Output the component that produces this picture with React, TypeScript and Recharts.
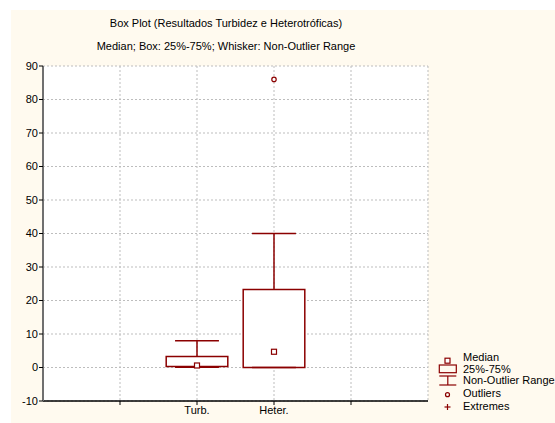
import React from 'react';
import {
  ComposedChart, XAxis, YAxis, CartesianGrid, ReferenceArea, ReferenceLine, Scatter
} from 'recharts';

// box plot summary
const categories = ['Turb.', 'Heter.'];
const minValues = [0.1, 0];
const q1Values = [0.3, 0];
const medianValues = [0.6, 4.7];
const q3Values = [3.3, 23.3];
const maxValues = [8, 40];
const outlierValues = [[], [86]];

const yTicks = [-10, 0, 10, 20, 30, 40, 50, 60, 70, 80, 90];
const xTicks = [1, 2, 3, 4];
const firstPos = 2;

const RED = '#8b0000';
const FONT = '"Liberation Sans", Arial, sans-serif';
const BOX_HALF = 0.4;
const CAP_HALF = 0.285;

const positions = categories.map((_, i) => firstPos + i);
const medianData = categories.map((_, i) => ({ x: positions[i], y: medianValues[i] }));
const outlierData = categories.flatMap((_, i) => outlierValues[i].map((v) => ({ x: positions[i], y: v })));

const tickLabel = (v: number) => {
  const i = positions.indexOf(v);
  return i >= 0 ? categories[i] : '';
};

const MedianMark = (props: any) => (
  <rect x={props.cx - 2.5} y={props.cy - 2.5} width={5} height={5} fill="#fff" stroke={RED} strokeWidth={1.2} />
);
const OutlierMark = (props: any) => (
  <circle cx={props.cx} cy={props.cy} r={2.2} fill="#fff" stroke={RED} strokeWidth={1.2} />
);

const tickStyle = { fontFamily: FONT, fontSize: 11, fill: '#000' };

const Overlay = () => (
  <svg width={544} height={413} style={{ position: 'absolute', left: 0, top: 0, pointerEvents: 'none' }}>
    <g fontFamily={FONT} fontSize={11} fill="#000">
      <text x={215} y={16.5} textAnchor="middle">Box Plot (Resultados Turbidez e Heterotróficas)</text>
      <text x={215} y={39.5} textAnchor="middle">Median; Box: 25%-75%; Whisker: Non-Outlier Range</text>
    </g>
    <g stroke={RED} fill="none" strokeWidth={1.2}>
      <rect x={434} y={348.2} width={5} height={5} fill="#fff" />
      <rect x={428.3} y={355} width={17} height={7.7} />
      <line x1={428.3} x2={445.3} y1={366} y2={366} />
      <line x1={428.3} x2={445.3} y1={375} y2={375} />
      <line x1={436.8} x2={436.8} y1={366} y2={375} />
      <circle cx={436.5} cy={384.7} r={2} />
      <line x1={433.5} x2={439.5} y1={397} y2={397} />
      <line x1={436.5} x2={436.5} y1={394} y2={400} />
    </g>
    <g fontFamily={FONT} fontSize={11} fill="#000">
      <text x={452} y={350.5}>Median</text>
      <text x={452} y={363}>25%-75%</text>
      <text x={452} y={374}>Non-Outlier Range</text>
      <text x={452} y={387.3}>Outliers</text>
      <text x={452} y={400}>Extremes</text>
    </g>
  </svg>
);

export default function App() {
  return (
    <div style={{ position: 'fixed', left: 11, top: 10, width: 544, height: 413, background: '#fffaef' }}>
      <ComposedChart width={544} height={413} margin={{ top: 56, right: 127, bottom: 0, left: 0 }}>
        <CartesianGrid stroke="#bdbdbd" strokeDasharray="2 2" fill="#fff" />
        <XAxis dataKey="x" type="number" domain={[0, 5]} ticks={xTicks} tickFormatter={tickLabel}
          height={22} tick={tickStyle} tickSize={4} tickMargin={1}
          axisLine={{ stroke: '#000', strokeWidth: 1.5 }} tickLine={{ stroke: '#000' }} />
        <XAxis xAxisId="top" orientation="top" dataKey="x" type="number" domain={[0, 5]} ticks={xTicks}
          tickFormatter={() => ''} height={0} tickSize={4}
          axisLine={{ stroke: '#707070', strokeWidth: 2 }} tickLine={{ stroke: '#000' }} />
        <YAxis type="number" domain={[-10, 90]} ticks={yTicks} width={32} tick={tickStyle}
          tickSize={4} tickMargin={1} interval={0}
          axisLine={{ stroke: '#707070', strokeWidth: 2 }} tickLine={{ stroke: '#000' }} />
        <YAxis yAxisId="right" orientation="right" type="number" domain={[-10, 90]} ticks={yTicks}
          width={0} tickFormatter={() => ''} tickSize={4} interval={0}
          axisLine={{ stroke: '#404040', strokeWidth: 2 }} tickLine={{ stroke: '#000' }} />

        {positions.map((p, i) => (
          <ReferenceLine key={`wu-${i}`} segment={[{ x: p, y: q3Values[i] }, { x: p, y: maxValues[i] }]}
            stroke={RED} strokeWidth={1.5} />
        ))}
        {positions.map((p, i) => (
          <ReferenceLine key={`wl-${i}`} segment={[{ x: p, y: minValues[i] }, { x: p, y: q1Values[i] }]}
            stroke={RED} strokeWidth={1.5} />
        ))}
        {positions.map((p, i) => (
          <ReferenceLine key={`cu-${i}`} segment={[{ x: p - CAP_HALF, y: maxValues[i] }, { x: p + CAP_HALF, y: maxValues[i] }]}
            stroke={RED} strokeWidth={1.5} />
        ))}
        {positions.map((p, i) => (
          <ReferenceLine key={`cl-${i}`} segment={[{ x: p - CAP_HALF, y: minValues[i] }, { x: p + CAP_HALF, y: minValues[i] }]}
            stroke={RED} strokeWidth={1.5} />
        ))}
        {positions.map((p, i) => (
          <ReferenceArea key={`box-${i}`} x1={p - BOX_HALF} x2={p + BOX_HALF} y1={q1Values[i]} y2={q3Values[i]}
            fill="#fff" fillOpacity={1} stroke={RED} strokeWidth={1.5} />
        ))}

        <Scatter data={medianData} dataKey="y" shape={MedianMark} isAnimationActive={false} />
        <Scatter data={outlierData} dataKey="y" shape={OutlierMark} isAnimationActive={false} />
      </ComposedChart>
      <Overlay />
    </div>
  );
}
